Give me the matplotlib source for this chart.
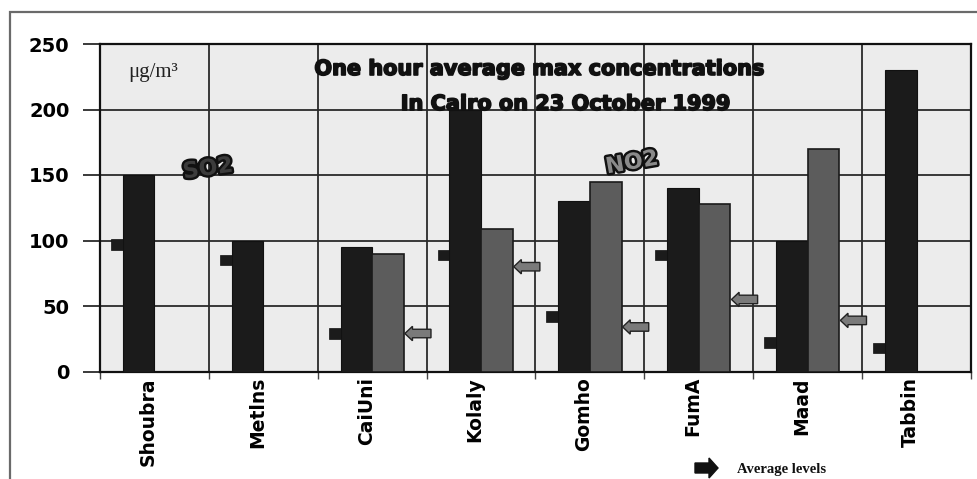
import numpy as np
import matplotlib
matplotlib.use("Agg")
import matplotlib.pyplot as plt
import matplotlib.patches as mpatches
import matplotlib.patheffects as pe
from matplotlib.transforms import ScaledTranslation

# ---- data ----
sites = ["Shoubra", "Metlns", "CaiUni", "Kolaly", "Gomho", "FumA", "Maad", "Tabbin"]
so2_max = [150, 100, 95, 200, 130, 140, 100, 230]
no2_max = [np.nan, np.nan, 90, 109, 145, 128, 170, np.nan]
so2_avg = [97, 85, 29, 89, 42, 89, 22, 18]
no2_avg = [np.nan, np.nan, 29, 80, 34, 55, 39, np.nan]
yticks = [0, 50, 100, 150, 200, 250]

W, H = 978, 479
fig = plt.figure(figsize=(W / 100, H / 100), dpi=100)
fig.patch.set_facecolor("white")

# outer frame
frame = mpatches.Rectangle((10 / W, -0.05), 1.1, 1 - 12 / H + 0.05, transform=fig.transFigure,
                           fill=False, edgecolor="#6a6a6a", linewidth=1.6)
fig.patches.append(frame)

ax = fig.add_axes([100 / W, 1 - 371.5 / H, 871 / W, (371.5 - 44) / H])
ax.set_facecolor("#ececec")

n = len(sites)
x = np.arange(n)
bw = 0.29
ax.set_xlim(-0.5, n - 0.5)
ax.set_ylim(0, 250)

# grid
ax.set_yticks(yticks)
ax.set_xticks(x)
ax.set_xticks(np.arange(n + 1) - 0.5, minor=True)
ax.grid(axis="y", which="major", color="#2a2a2a", linewidth=1.3, zorder=1)
ax.grid(axis="x", which="minor", color="#2a2a2a", linewidth=1.3, zorder=1)
ax.set_axisbelow(True)

so2_x = x - bw / 2
no2_x = x + bw / 2
ax.bar(so2_x, so2_max, width=bw, color="#1b1b1b", edgecolor="#111111", linewidth=0.8, zorder=3)
ax.bar(no2_x, no2_max, width=bw, color="#5c5c5c", edgecolor="#1a1a1a", linewidth=1.2, zorder=3)

# SO2 average markers (stubs left of the dark bars)
mw = 0.11
ax.bar(so2_x - bw / 2 - mw / 2, 8, bottom=np.array(so2_avg) - 4, width=mw,
       color="#1b1b1b", edgecolor="#111111", linewidth=0.5, zorder=3)

# NO2 average arrows pointing left toward grey bars
for xi, v in zip(no2_x, no2_avg):
    if np.isnan(v):
        continue
    tip = xi + bw / 2 + 0.01
    ax.add_patch(mpatches.FancyArrow(tip + 0.24, v, -0.24, 0, width=6.5, head_width=11,
                                     head_length=0.07, length_includes_head=True,
                                     facecolor="#7a7a7a", edgecolor="#222222",
                                     linewidth=1.0, zorder=4))

# axes styling
for s in ax.spines.values():
    s.set_color("#111111")
    s.set_linewidth(1.6)
ax.tick_params(axis="y", which="major", length=12, width=1.3, color="#2a2a2a", pad=10,
               labelsize=14)
ax.tick_params(axis="x", which="major", length=0, pad=4, labelsize=13.5)
ax.tick_params(axis="x", which="minor", length=5, width=1.0, color="#444444")
for lab in ax.get_yticklabels():
    lab.set_fontweight("bold")
ax.set_xticklabels(sites, rotation=90, fontweight="bold")
off = ScaledTranslation(-6 / 100, 0, fig.dpi_scale_trans)
for lab in ax.get_xticklabels():
    lab.set_transform(lab.get_transform() + off)

# texts inside plot
ax.text(128 / W, 1 - 72 / H, "μg/m³", transform=fig.transFigure, fontsize=15,
        family="Liberation Serif", va="center", ha="left", color="#222222")
heavy = [pe.withStroke(linewidth=1.2, foreground="#111111")]
ax.text(540 / W, 1 - 75 / H, "One hour average max concentrations", transform=fig.transFigure,
        fontsize=15, fontweight="bold", ha="center", va="baseline", color="#111111", zorder=6,
        path_effects=heavy)
ax.text(566 / W, 1 - 110 / H, "In Cairo on 23 October 1999", transform=fig.transFigure,
        fontsize=15, fontweight="bold", ha="center", va="baseline", color="#111111", zorder=6,
        path_effects=heavy)

stroke = [pe.withStroke(linewidth=3.5, foreground="#111111")]
ax.text(208 / W, 1 - 169 / H, "SO2", transform=fig.transFigure, fontsize=16, fontweight="heavy",
        ha="center", va="center", rotation=8, color="#3c3c3c", path_effects=stroke, zorder=6)
ax.text(632 / W, 1 - 163 / H, "NO2", transform=fig.transFigure, fontsize=16, fontweight="heavy",
        ha="center", va="center", rotation=10, color="#8a8a8a", path_effects=stroke, zorder=6)

# legend: arrow + "Average levels"
fig.patches.append(mpatches.FancyArrow(695 / W, 1 - 468 / H, 23 / W, 0, width=10 / H,
                                       head_width=20 / H, head_length=9 / W,
                                       length_includes_head=True, transform=fig.transFigure,
                                       facecolor="#111111", edgecolor="#111111"))
fig.text(737 / W, 1 - 469 / H, "Average levels", fontsize=10.5, fontweight="bold",
         family="Liberation Serif", ha="left", va="center", color="#111111")

fig.savefig("out.png", dpi=100)
